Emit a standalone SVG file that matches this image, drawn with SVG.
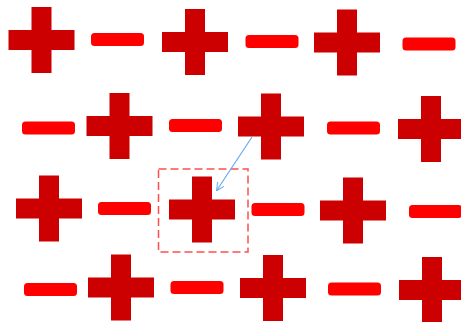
<svg xmlns="http://www.w3.org/2000/svg" xmlns:xlink="http://www.w3.org/1999/xlink" width="461" height="322" viewBox="0 0 461 322">
<style>
.plus{fill:#cc0000}
.minus{fill:#ff0000}
.sel{fill:none;stroke:#ff4d4d;stroke-width:1.5;stroke-dasharray:8 4}
.conn{fill:none;stroke:#6aaaf2;stroke-width:1.2}
</style>
<defs>
<path id="p" class="plus" d="M-10,-33h20v23h23v20h-23v23h-20v-23h-23v-20h23z"/>
<rect id="m" class="minus" x="-26.5" y="-6.5" width="53" height="13" rx="3.5"/>
<marker id="ah" viewBox="0 0 10 10" refX="9" refY="5" markerWidth="8" markerHeight="8" orient="auto" markerUnits="userSpaceOnUse">
<path d="M0,0L10,5L0,10" fill="none" stroke="#6aaaf2" stroke-width="1.3"/>
</marker>
</defs>
<rect width="461" height="322" fill="#ffffff"/>
<g id="r1c1"><use href="#p" x="41.5" y="40"/></g>
<g id="r1c2"><use href="#m" x="117.5" y="39.5"/></g>
<g id="r1c3"><use href="#p" x="195" y="42"/></g>
<g id="r1c4"><use href="#m" x="272" y="41.5"/></g>
<g id="r1c5"><use href="#p" x="347" y="42.5"/></g>
<g id="r1c6"><use href="#m" x="429" y="44"/></g>
<g id="r2c1"><use href="#m" x="48.5" y="128"/></g>
<g id="r2c2"><use href="#p" x="119.5" y="126"/></g>
<g id="r2c3"><use href="#m" x="195.5" y="125.5"/></g>
<g id="r2c4"><use href="#p" x="271" y="126.5"/></g>
<g id="r2c5"><use href="#m" x="353.5" y="128"/></g>
<g id="r2c6"><use href="#p" x="431" y="129"/></g>
<g id="r3c1"><use href="#p" x="49" y="208.5"/></g>
<g id="r3c2"><use href="#m" x="124.5" y="208.5"/></g>
<g id="r3c3"><use href="#p" x="202" y="209.5"/><rect class="sel" x="158.5" y="169" width="89.5" height="83"/></g>
<g id="r3c4"><use href="#m" x="278" y="209.5"/></g>
<g id="r3c5"><use href="#p" x="353" y="210.5"/></g>
<g id="r3c6"><use href="#m" x="435.5" y="211.5"/></g>
<g id="r4c1"><use href="#m" x="50.5" y="289.5"/></g>
<g id="r4c2"><use href="#p" x="121" y="287.5"/></g>
<g id="r4c3"><use href="#m" x="197" y="287.5"/></g>
<g id="r4c4"><use href="#p" x="273" y="288"/></g>
<g id="r4c5"><use href="#m" x="354.5" y="289"/></g>
<g id="r4c6"><use href="#p" x="432" y="290"/></g>
<g id="connectors">
<line class="conn" x1="252" y1="137" x2="217" y2="190" marker-end="url(#ah)"/>
</g>
</svg>
